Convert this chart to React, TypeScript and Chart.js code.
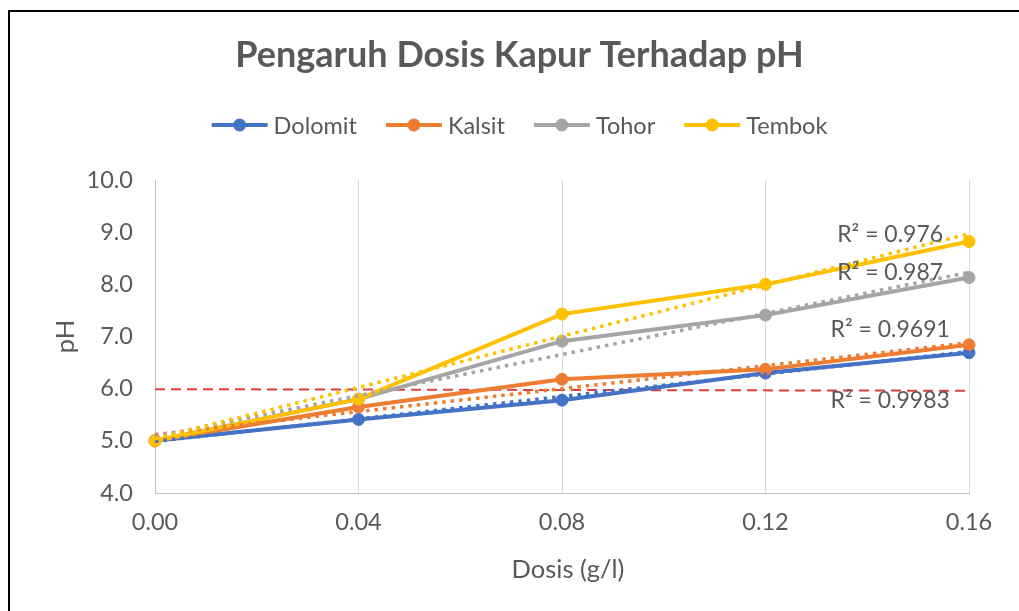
import React, { useEffect, useRef } from 'react';
import { Chart, registerables } from 'chart.js';

Chart.register(...registerables);

// ---- data ----
const doses = [0, 0.04, 0.08, 0.12, 0.16];
const dolomit = [5.0, 5.41, 5.78, 6.3, 6.69];
const kalsit = [5.0, 5.65, 6.18, 6.37, 6.84];
const tohor = [5.0, 5.8, 6.91, 7.41, 8.13];
const tembok = [5.0, 5.8, 7.43, 8.0, 8.82];
const seriesNames = ['Dolomit', 'Kalsit', 'Tohor', 'Tembok'];
const seriesValues = [dolomit, kalsit, tohor, tembok];
const seriesColors = ['#4472C4', '#ED7D31', '#A5A5A5', '#FFC000'];
// linear trendline endpoints (at dose 0 and dose 0.16)
const trendStart = [4.99, 5.12, 5.08, 5.04];
const trendEnd = [6.71, 6.88, 8.23, 8.97];
const r2Texts = ['R² = 0.9983', 'R² = 0.9691', 'R² = 0.987', 'R² = 0.976'];
const r2LabelX = 0.1445;
const r2LabelY = [5.78, 7.14, 8.22, 8.945];
const thresholdY = [5.99, 5.96];
const xTicks = [0, 0.04, 0.08, 0.12, 0.16];
const yTicks = [4, 5, 6, 7, 8, 9, 10];
const titleText = 'Pengaruh Dosis Kapur Terhadap pH';
const xTitleText = 'Dosis (g/l)';
const yTitleText = 'pH';

// ---- styles ----
const FONT = "Lato, 'Open Sans', sans-serif";
const TEXT = '#595959';
const CANVAS_W = 1009;
const CANVAS_H = 599;

const decor = {
  id: 'decor',
  afterDraw(chart: any) {
    const { ctx, chartArea, scales } = chart;
    ctx.save();
    ctx.fillStyle = TEXT;
    // title
    ctx.font = `bold 36px ${FONT}`;
    ctx.textAlign = 'center';
    ctx.textBaseline = 'middle';
    ctx.fillText(titleText, chart.width / 2 + 5, 43);

    // legend
    ctx.font = `23.5px ${FONT}`;
    const sym = 56;
    const gapT = 6;
    const gapI = 29;
    const widths = seriesNames.map((n) => ctx.measureText(n).width);
    const total = widths.reduce((a, w) => a + sym + gapT + w, 0) + gapI * (seriesNames.length - 1);
    let x = chart.width / 2 + 5 - total / 2;
    const ly = 113;
    seriesNames.forEach((n, i) => {
      ctx.strokeStyle = seriesColors[i];
      ctx.lineWidth = 4;
      ctx.beginPath();
      ctx.moveTo(x, ly);
      ctx.lineTo(x + sym, ly);
      ctx.stroke();
      ctx.fillStyle = seriesColors[i];
      ctx.beginPath();
      ctx.arc(x + sym / 2, ly, 6.5, 0, Math.PI * 2);
      ctx.fill();
      ctx.fillStyle = TEXT;
      ctx.textAlign = 'left';
      ctx.fillText(n, x + sym + gapT, ly + 1);
      x += sym + gapT + widths[i] + gapI;
    });

    // R² labels
    ctx.font = `23px ${FONT}`;
    ctx.textAlign = 'center';
    r2Texts.forEach((t, i) => {
      ctx.fillText(t, scales.x.getPixelForValue(r2LabelX), scales.y.getPixelForValue(r2LabelY[i]));
    });

    // axis titles
    ctx.font = `25.5px ${FONT}`;
    ctx.fillText(xTitleText, (chartArea.left + chartArea.right) / 2 + 6, 558);
    ctx.save();
    ctx.translate(56, (chartArea.top + chartArea.bottom) / 2);
    ctx.rotate(-Math.PI / 2);
    ctx.fillText(yTitleText, 0, 0);
    ctx.restore();
    ctx.restore();
  },
};

export default function App() {
  const ref = useRef<HTMLCanvasElement>(null);

  useEffect(() => {
    if (!ref.current) return;
    Chart.defaults.font.family = FONT;
    const datasets: any[] = [];
    seriesNames.forEach((name, i) => {
      datasets.push({
        label: name,
        data: doses.map((d, j) => ({ x: d, y: seriesValues[i][j] })),
        borderColor: seriesColors[i],
        backgroundColor: seriesColors[i],
        borderWidth: 4,
        pointRadius: 6,
        pointBorderWidth: 1,
        pointBackgroundColor: seriesColors[i],
        pointBorderColor: seriesColors[i],
        clip: false,
        order: 8 - i,
      });
    });
    seriesNames.forEach((name, i) => {
      datasets.push({
        label: name + ' trend',
        data: [
          { x: doses[0], y: trendStart[i] },
          { x: doses[doses.length - 1], y: trendEnd[i] },
        ],
        borderColor: seriesColors[i],
        borderWidth: 3.5,
        borderDash: [3.5, 5],
        pointRadius: 0,
        clip: false,
        order: 4 - i,
      });
    });
    datasets.push({
      label: 'threshold',
      data: [
        { x: doses[0], y: thresholdY[0] },
        { x: doses[doses.length - 1], y: thresholdY[1] },
      ],
      borderColor: '#DC4040',
      borderWidth: 2,
      borderDash: [10, 6],
      pointRadius: 0,
      clip: false,
      order: 20,
    });

    const chart = new Chart(ref.current, {
      type: 'line',
      data: { datasets },
      options: {
        animation: false,
        responsive: false,
        layout: { padding: { top: 168, right: 50, left: 0, bottom: 0 } },
        plugins: {
          legend: { display: false },
          title: { display: false },
          tooltip: { enabled: false },
        },
        scales: {
          x: {
            type: 'linear',
            min: 0,
            max: 0.16,
            afterBuildTicks: (s: any) => {
              s.ticks = xTicks.map((v) => ({ value: v }));
            },
            afterFit: (s: any) => {
              s.height = 118;
            },
            ticks: {
              color: TEXT,
              font: { size: 23.5 },
              padding: 15,
              callback: (v: any) => Number(v).toFixed(2),
            },
            grid: { display: true, color: '#D9D9D9', lineWidth: 1, drawTicks: false },
            border: { display: true, color: '#BFBFBF', width: 1 },
          },
          y: {
            type: 'linear',
            min: 4,
            max: 10,
            afterBuildTicks: (s: any) => {
              s.ticks = yTicks.map((v) => ({ value: v }));
            },
            afterFit: (s: any) => {
              s.width = 145;
            },
            ticks: {
              color: TEXT,
              font: { size: 23.5 },
              padding: 22,
              callback: (v: any) => Number(v).toFixed(1),
            },
            grid: { display: false, drawTicks: false },
            border: { display: true, color: '#BFBFBF', width: 1 },
          },
        },
      },
      plugins: [decor],
    });
    return () => chart.destroy();
  }, []);

  return (
    <div style={{ position: 'fixed', left: 0, top: 0, width: 1019, height: 611, overflow: 'hidden', background: '#fff' }}>
      <div
        style={{
          position: 'absolute',
          left: 8,
          top: 10,
          width: 1011,
          height: 601,
          boxSizing: 'border-box',
          borderTop: '2px solid #000',
          borderLeft: '2px solid #000',
        }}
      >
        <canvas ref={ref} width={CANVAS_W} height={CANVAS_H} style={{ display: 'block' }} />
      </div>
    </div>
  );
}
